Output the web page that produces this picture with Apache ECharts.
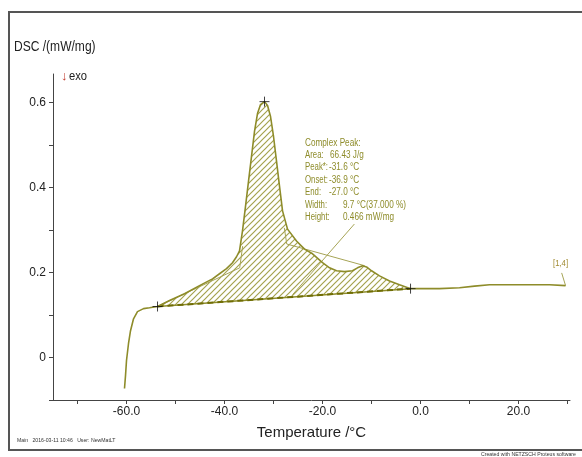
<!DOCTYPE html>
<html lang="en">
<head>
	<meta charset="UTF-8">
	<title>DSC curve</title>
	<style>
		html, body { margin: 0; padding: 0; background: #fff; }
		#main { width: 582px; height: 457px; }
	</style>
	<script src="https://cdn.jsdelivr.net/npm/echarts@6/dist/echarts.min.js"></script>
</head>
<body>
	<div id="main"></div>
	<script>
		// measured DSC curve (temperature °C, DSC mW/mg)
		var tempC = [-60.41, -60.2, -60.0, -59.59, -59.18, -58.57, -57.76, -56.53, -55.31, -53.67,
			-51.22, -48.16, -45.1, -42.45, -41.02, -39.59, -38.37, -37.55, -36.94, -36.33,
			-35.71, -35.1, -34.49, -33.88, -33.27, -32.65, -31.84, -31.22, -30.61, -30.0,
			-29.39, -28.78, -28.16, -27.14, -25.31, -23.67, -22.04, -20.0, -18.57, -17.14,
			-15.51, -13.88, -12.86, -11.84, -11.02, -10.0, -8.37, -6.33, -4.29, -2.04,
			-0.2, 3.88, 7.96, 11.02, 14.08, 18.16, 22.24, 26.33, 29.59];
		var dsc = [-0.073, -0.042, -0.007, 0.033, 0.063, 0.091, 0.108, 0.115, 0.117, 0.120,
			0.134, 0.150, 0.169, 0.185, 0.197, 0.209, 0.223, 0.237, 0.251, 0.298,
			0.356, 0.415, 0.473, 0.532, 0.574, 0.595, 0.602, 0.593, 0.567, 0.520,
			0.462, 0.403, 0.345, 0.302, 0.274, 0.255, 0.244, 0.223, 0.211, 0.204,
			0.202, 0.204, 0.211, 0.216, 0.213, 0.204, 0.192, 0.180, 0.171, 0.162,
			0.162, 0.162, 0.164, 0.168, 0.171, 0.171, 0.171, 0.171, 0.169];

		// evaluation points: onset, peak, end
		var markT = [-53.67, -31.84, -2.04];
		var markDsc = [0.120, 0.602, 0.162];

		// partial area construction lines
		var leftConT = [-53.67, -36.9, -36.3];
		var leftConDsc = [0.120, 0.211, 0.262];
		var rightConT = [-27.8, -27.3, -11.4];
		var rightConDsc = [0.305, 0.267, 0.216];
		var leaderT = [-13.5, -26.1];
		var leaderDsc = [0.314, 0.148];
		var tagT = [28.8, 29.6];
		var tagDsc = [0.199, 0.169];

		var xTicks = [-70, -60, -50, -40, -30, -20, -10, 0, 10, 20, 30];
		var xLabels = [-60, -40, -20, 0, 20];
		var yTicks = [-0.1, 0, 0.1, 0.2, 0.3, 0.4, 0.5, 0.6];
		var yLabels = [0, 0.2, 0.4, 0.6];

		var infoNames = ['Area:', 'Peak*:', 'Onset:', 'End:', 'Width:', 'Height:'];
		var infoValues = ['66.43 J/g', '-31.6 °C', '-36.9 °C', '-27.0 °C', '9.7 °C(37.000 %)', '0.466 mW/mg'];

		function pairs(a, b) {
			return a.map(function (v, i) { return [v, b[i]]; });
		}

		var curve = pairs(tempC, dsc);
		var onset = [markT[0], markDsc[0]];
		var end = [markT[2], markDsc[2]];
		// peak region: curve between onset and end, closed by the straight baseline
		var peakArea = curve.filter(function (p) { return p[0] >= onset[0] && p[0] <= end[0]; });

		// hatch pattern
		var hatch = document.createElement('canvas');
		hatch.width = 6;
		hatch.height = 6;
		var hc = hatch.getContext('2d');
		hc.strokeStyle = '#a4a24e';
		hc.lineWidth = 1.2;
		hc.beginPath();
		hc.moveTo(0, 6); hc.lineTo(6, 0);
		hc.moveTo(-1, 1); hc.lineTo(1, -1);
		hc.moveTo(5, 7); hc.lineTo(7, 5);
		hc.stroke();

		var olive = '#8e8c2a';
		var font = '"Liberation Sans", Arial, sans-serif';
		var narrow = 0.86;

		var myChart = echarts.init(document.getElementById('main'));

		var graphics = [
			{ type: 'rect', shape: { x: 9, y: 12, width: 600, height: 438 },
				style: { fill: 'none', stroke: '#555', lineWidth: 2 }, silent: true },
			{ type: 'text', left: 14, top: 40, scaleX: narrow,
				style: { text: 'DSC /(mW/mg)', font: '14px ' + font, fill: '#222' } },
			{ type: 'text', left: 61, top: 70,
				style: { text: '↓', font: '13px ' + font, fill: '#c0392b' } },
			{ type: 'text', left: 69, top: 70, scaleX: narrow,
				style: { text: 'exo', font: '13px ' + font, fill: '#222' } },
			{ type: 'text', left: 305, top: 138, scaleX: 0.82,
				style: { text: 'Complex Peak:', font: '10px ' + font, fill: olive } },
			{ type: 'text', left: 553, top: 259, scaleX: narrow,
				style: { text: '[1,4]', font: '9px ' + font, fill: '#a08a30' } },
			{ type: 'text', left: 17, top: 437, scaleX: narrow,
				style: { text: 'Main   2016-03-11 10:46   User: NewMatLT', font: '6px ' + font, fill: '#333' } },
			{ type: 'text', left: 481, top: 451, scaleX: narrow,
				style: { text: 'Created with NETZSCH Proteus software', font: '6px ' + font, fill: '#333' } }
		];
		var valueX = [330, 329, 329, 329, 343, 343];
		infoNames.forEach(function (n, i) {
			graphics.push({ type: 'text', left: 305, top: 150 + i * 12.5, scaleX: 0.78,
				style: { text: n, font: '10px ' + font, fill: olive } });
			graphics.push({ type: 'text', left: valueX[i], top: 150 + i * 12.5, scaleX: 0.82,
				style: { text: infoValues[i], font: '10px ' + font, fill: olive } });
		});

		var thinLine = function (data, color, width, z) {
			return {
				type: 'line', data: data, symbol: 'none', silent: true, z: z,
				lineStyle: { color: color, width: width }
			};
		};

		var option = {
			animation: false,
			grid: { left: 53, right: 12, top: 74, bottom: 57 },
			xAxis: {
				type: 'value', min: -75, max: 30.5,
				name: 'Temperature /°C', nameLocation: 'middle', nameGap: 25,
				nameTextStyle: { fontSize: 15, color: '#222', fontFamily: font },
				axisLine: { onZero: false, lineStyle: { color: '#444', width: 1 } },
				axisTick: { customValues: xTicks, length: 4, lineStyle: { color: '#444' } },
				axisLabel: {
					customValues: xLabels, fontSize: 12, color: '#222', fontFamily: font, margin: 6,
					formatter: function (v) { return v.toFixed(1); }
				},
				splitLine: { show: false }
			},
			yAxis: {
				type: 'value', min: -0.1, max: 0.667,
				axisLine: { show: true, onZero: false, lineStyle: { color: '#444', width: 1 } },
				axisTick: { show: true, customValues: yTicks, length: 4, lineStyle: { color: '#444' } },
				axisLabel: {
					customValues: yLabels, fontSize: 12, color: '#222', fontFamily: font, margin: 7,
					formatter: function (v) { return v === 0 ? '0' : v.toFixed(1); }
				},
				splitLine: { show: false }
			},
			graphic: graphics,
			series: [
				{
					type: 'custom', silent: true, z: 1,
					data: [[-30, 0.3]],
					renderItem: function (params, api) {
						var pts = peakArea.map(function (p) { return api.coord(p); });
						return {
							type: 'polygon', shape: { points: pts },
							style: { fill: { image: hatch, repeat: 'repeat' }, stroke: null }
						};
					}
				},
				thinLine(pairs(leftConT, leftConDsc), '#a6a456', 1, 3),
				thinLine(pairs(rightConT, rightConDsc), '#a6a456', 1, 3),
				thinLine(pairs(leaderT, leaderDsc), '#a6a456', 1, 3),
				thinLine(pairs(tagT, tagDsc), '#a6a456', 1, 3),
				thinLine([onset, end], '#8e8c2a', 1.5, 4),
				{
					type: 'line', data: [onset, end], symbol: 'none', silent: true, z: 4,
					lineStyle: { color: '#6f6d05', width: 2, type: [6, 4] }
				},
				thinLine(curve, olive, 1.6, 5),
				{
					type: 'scatter', data: pairs(markT, markDsc), z: 6, silent: true,
					symbol: 'path://M0,5L10,5M5,0L5,10', symbolSize: 10,
					itemStyle: { color: 'none', borderColor: '#111', borderWidth: 1 }
				}
			]
		};

		myChart.setOption(option);
	</script>
</body>
</html>
